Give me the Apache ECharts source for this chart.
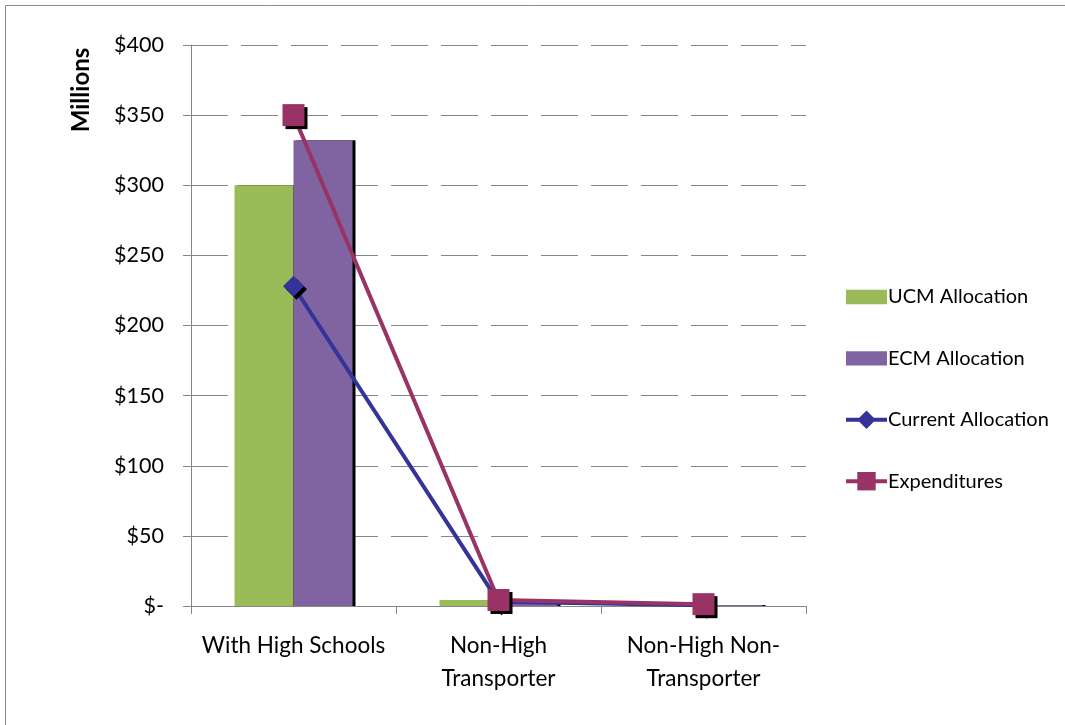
<!DOCTYPE html>
<html>
<head>
<meta charset="utf-8">
<script src="https://cdn.jsdelivr.net/npm/echarts@6/dist/echarts.min.js"></script>
<style>
  html, body { margin: 0; padding: 0; background: #fff; }
  #chart { width: 1065px; height: 725px; }
</style>
</head>
<body>
<div id="chart"></div>
<script>
// District groups along the x axis
const categories = ['With High Schools', 'Non-High\nTransporter', 'Non-High Non-\nTransporter'];

// Funding by group, in millions of dollars
const ucmAllocation = [300, 4.3, 0.2];
const ecmAllocation = [332, 2.2, 0.8];
const currentAllocation = [228, 3, 0.5];
const expenditures = [350, 4.3, 1.3];

// Y axis scale
const yMin = 0;
const yMax = 400;
const yStep = 50;

const FONT = 'Lato, "Open Sans", sans-serif';
const GRID_GRAY = '#868686';

const chart = echarts.init(document.getElementById('chart'), null, { renderer: 'canvas' });

const markerShadow = {
  shadowColor: '#000',
  shadowBlur: 0,
  shadowOffsetX: 3,
  shadowOffsetY: 3
};

const barShadow = {
  shadowColor: '#000',
  shadowBlur: 0,
  shadowOffsetX: 3,
  shadowOffsetY: 0
};

// flat swatch for the bar entries in the legend
const swatch = 'path://M0,0H40V14H0Z';

chart.setOption({
  backgroundColor: '#fff',
  animation: false,
  graphic: [
    {
      type: 'rect',
      shape: { x: 5.5, y: 5.5, width: 1100, height: 800 },
      style: { fill: null, stroke: '#8c8c8c', lineWidth: 1 },
      silent: true
    },
    {
      type: 'text',
      x: 81,
      y: 90,
      rotation: Math.PI / 2,
      style: {
        text: 'Millions',
        font: 'bold 24px ' + FONT,
        fill: '#000',
        align: 'center',
        verticalAlign: 'middle'
      }
    }
  ],
  grid: { left: 191, right: 259, top: 45, bottom: 119, containLabel: false },
  legend: {
    orient: 'vertical',
    left: 844,
    top: 286,
    padding: 0,
    itemWidth: 41,
    itemHeight: 23,
    itemGap: 39.4,
    lineStyle: { width: 4 },
    textStyle: { fontFamily: FONT, fontSize: 20, lineHeight: 22, color: '#000', padding: [0, 0, 0, -4] },
    data: [
      { name: 'UCM Allocation', icon: swatch },
      { name: 'ECM Allocation', icon: swatch },
      { name: 'Current Allocation' },
      { name: 'Expenditures' }
    ]
  },
  xAxis: {
    type: 'category',
    data: categories,
    axisLine: { lineStyle: { color: GRID_GRAY, width: 1 } },
    axisTick: { show: true, length: 8, lineStyle: { color: GRID_GRAY } },
    axisLabel: {
      fontFamily: FONT,
      fontSize: 22.5,
      color: '#000',
      margin: 23,
      lineHeight: 33,
      interval: 0
    }
  },
  yAxis: {
    type: 'value',
    min: yMin,
    max: yMax,
    interval: yStep,
    axisLine: { show: true, lineStyle: { color: GRID_GRAY, width: 1 } },
    axisTick: { show: true, length: 8, lineStyle: { color: GRID_GRAY } },
    axisLabel: {
      fontFamily: FONT,
      fontSize: 21.5,
      color: '#000',
      margin: 27,
      formatter: v => (v === 0 ? '$-' : '$' + v)
    },
    splitLine: {
      show: true,
      lineStyle: { color: GRID_GRAY, width: 1, type: [37, 13] }
    }
  },
  series: [
    {
      name: 'UCM Allocation',
      type: 'bar',
      data: ucmAllocation,
      barWidth: 59,
      barGap: '0%',
      itemStyle: { color: '#9BBB59', ...barShadow },
      z: 2
    },
    {
      name: 'ECM Allocation',
      type: 'bar',
      data: ecmAllocation,
      barWidth: 59,
      barGap: '0%',
      itemStyle: { color: '#8064A2', ...barShadow },
      z: 2
    },
    {
      name: 'Current Allocation',
      type: 'line',
      data: currentAllocation,
      symbol: 'diamond',
      symbolSize: 21,
      lineStyle: { color: '#333399', width: 4 },
      itemStyle: { color: '#333399', ...markerShadow },
      z: 3
    },
    {
      name: 'Expenditures',
      type: 'line',
      data: expenditures,
      symbol: 'rect',
      symbolSize: 22,
      lineStyle: { color: '#993366', width: 4 },
      itemStyle: { color: '#993366', ...markerShadow },
      z: 4
    }
  ]
});
</script>
</body>
</html>
